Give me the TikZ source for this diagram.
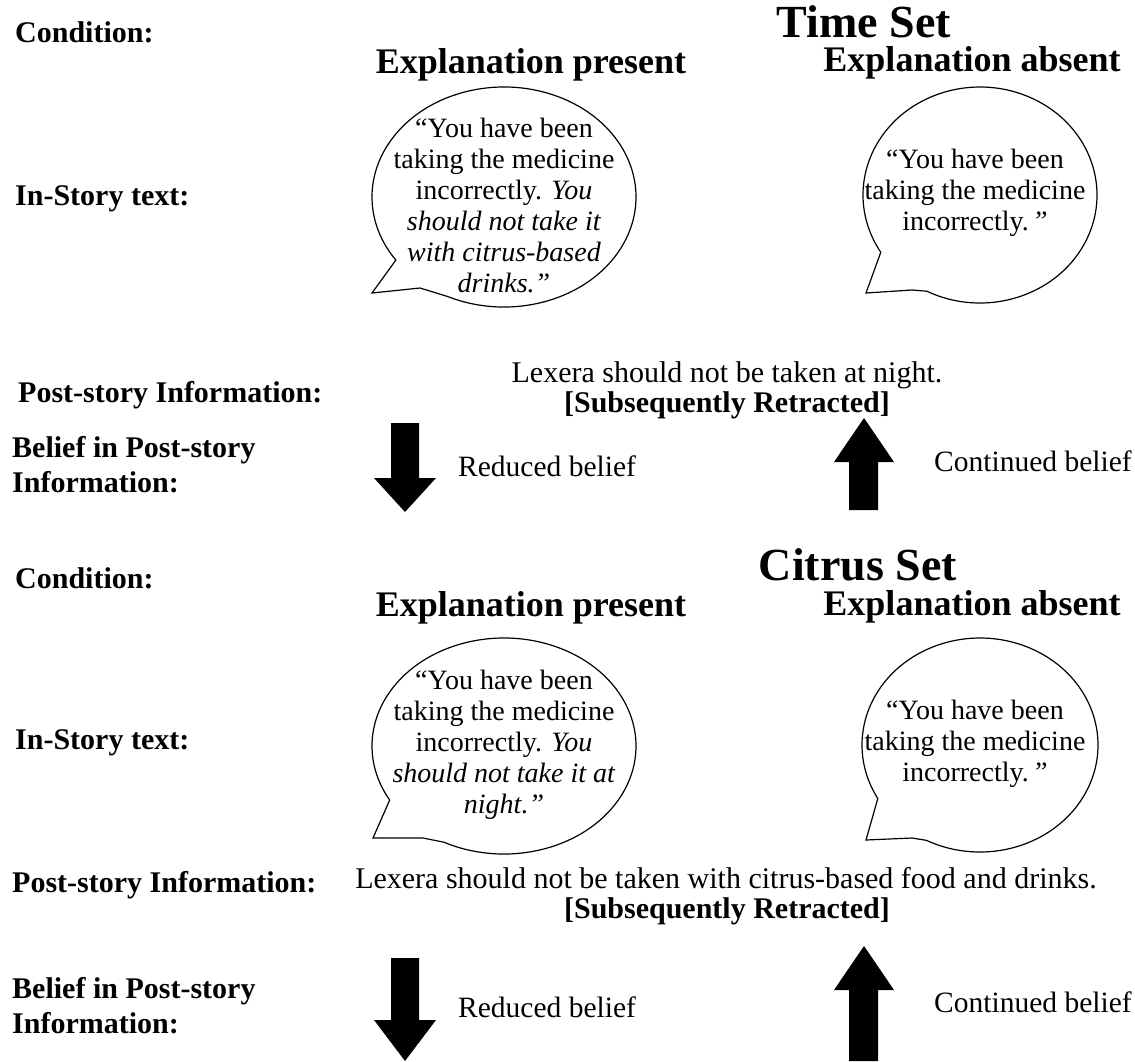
\documentclass[tikz,border=0pt]{standalone}
\usepackage{fontspec}
\setmainfont{Liberation Serif}
\usetikzlibrary{calc}
\begin{document}
\begin{tikzpicture}[x=1pt,y=-1pt,
  rowlabel/.style={anchor=west, inner sep=0pt, font=\fontsize{30}{35}\selectfont\bfseries, text height=21.6pt, text depth=1.5pt},
  rowlabeltwo/.style={anchor=west, inner sep=0pt, align=left, font=\fontsize{30}{35}\selectfont\bfseries},
  condhead/.style={inner sep=0pt, font=\fontsize{36}{40}\selectfont\bfseries, text height=26pt, text depth=1.8pt},
  settitle/.style={inner sep=0pt, font=\fontsize{46}{50}\selectfont\bfseries, text height=33pt, text depth=1pt},
  bodytext/.style={inner sep=0pt, font=\fontsize{30}{35}\selectfont, text height=21.6pt, text depth=1.5pt},
  bodybold/.style={inner sep=0pt, font=\fontsize{30}{35}\selectfont\bfseries, text height=21.6pt, text depth=1.5pt},
  beliefnote/.style={anchor=west, inner sep=0pt, font=\fontsize{29.5}{35}\selectfont, text height=21.3pt, text depth=1.5pt},
  saytext/.style={inner sep=0pt, align=center, font=\fontsize{28}{31}\selectfont},
  bubble/.style={draw=black, line width=1.2pt, line join=miter, fill=white},
  blockarrow/.style={fill=black, draw=none},
]
\useasboundingbox[fill=white] (0,0) rectangle (1135,1061);

% ---------------- Time Set ----------------
\node[settitle] (tsTitle) at (864,21) {Time Set};
\node[rowlabel] (tsCond) at (15,32) {Condition:};
\node[condhead] (tsPres) at (531,61) {Explanation present};
\node[condhead] (tsAbs) at (972,59) {Explanation absent};
\node[rowlabel] (tsStory) at (15,195) {In-Story text:};

% bubbles
\draw[bubble] ($(504,197)+(115:132 and 110)$)
  arc[start angle=115, end angle=-215, x radius=132, y radius=110]
  -- (372,293) -- (420,288) -- cycle;
\node[saytext] (tsPresSay) at (504,205) {“You have been\\taking the medicine\\incorrectly. \textit{You}\\\textit{should not take it}\\\textit{with citrus-based}\\\textit{drinks.”}};

\draw[bubble] ($(980,195)+(117:117 and 108)$)
  arc[start angle=117, end angle=-212, x radius=117, y radius=108]
  -- (866,293) -- (912,290) -- cycle;
\node[saytext] (tsAbsSay) at (975,193) {“You have been\\taking the medicine\\incorrectly.\hspace{0.12em}\textit{”}};

\node[rowlabel] (tsPost) at (18,392) {Post-story Information:};
\node[bodytext] (tsPostText) at (727,372) {Lexera should not be taken at night.};
\node[bodybold] (tsRetr) at (727,402) {[Subsequently Retracted]};

\node[rowlabeltwo] (tsBelief) at (12,465) {Belief in Post-story\\Information:};
\fill[blockarrow] (391,423) -- (419,423) -- (419,478) -- (436,478) -- (405,512) -- (374,478) -- (391,478) -- cycle;
\node[beliefnote] (tsReduced) at (458,467) {Reduced belief};
\fill[blockarrow] (849,510) -- (878,510) -- (878,462) -- (894,462) -- (864,418) -- (834,462) -- (849,462) -- cycle;
\node[beliefnote] (tsContinued) at (934,462) {Continued belief};

% ---------------- Citrus Set ----------------
\node[settitle] (csTitle) at (858,564) {Citrus Set};
\node[rowlabel] (csCond) at (15,578) {Condition:};
\node[condhead] (csPres) at (531,604) {Explanation present};
\node[condhead] (csAbs) at (972,603) {Explanation absent};
\node[rowlabel] (csStory) at (15,739) {In-Story text:};

\draw[bubble] ($(504,746)+(117:132 and 108)$)
  arc[start angle=117, end angle=-210, x radius=132, y radius=108]
  -- (373,838) -- (423,838) -- cycle;
\node[saytext] (csPresSay) at (504,745) {“You have been\\taking the medicine\\incorrectly. \textit{You}\\\textit{should not take it at}\\\textit{night.”}};

\draw[bubble] ($(980,745)+(117:118 and 107)$)
  arc[start angle=117, end angle=-210, x radius=118, y radius=107]
  -- (866,840) -- (912,838) -- cycle;
\node[saytext] (csAbsSay) at (975,744) {“You have been\\taking the medicine\\incorrectly.\hspace{0.12em}\textit{”}};

\node[rowlabel] (csPost) at (12,882) {Post-story Information:};
\node[bodytext] (csPostText) at (726,878) {Lexera should not be taken with citrus-based food and drinks.};
\node[bodybold] (csRetr) at (727,908) {[Subsequently Retracted]};

\node[rowlabeltwo] (csBelief) at (12,1006) {Belief in Post-story\\Information:};
\fill[blockarrow] (391,958) -- (419,958) -- (419,1020) -- (436,1020) -- (405,1061) -- (374,1020) -- (391,1020) -- cycle;
\node[beliefnote] (csReduced) at (458,1008) {Reduced belief};
\fill[blockarrow] (849,1061) -- (878,1061) -- (878,990) -- (894,990) -- (864,946) -- (834,990) -- (849,990) -- cycle;
\node[beliefnote] (csContinued) at (934,1003) {Continued belief};
\end{tikzpicture}
\end{document}
